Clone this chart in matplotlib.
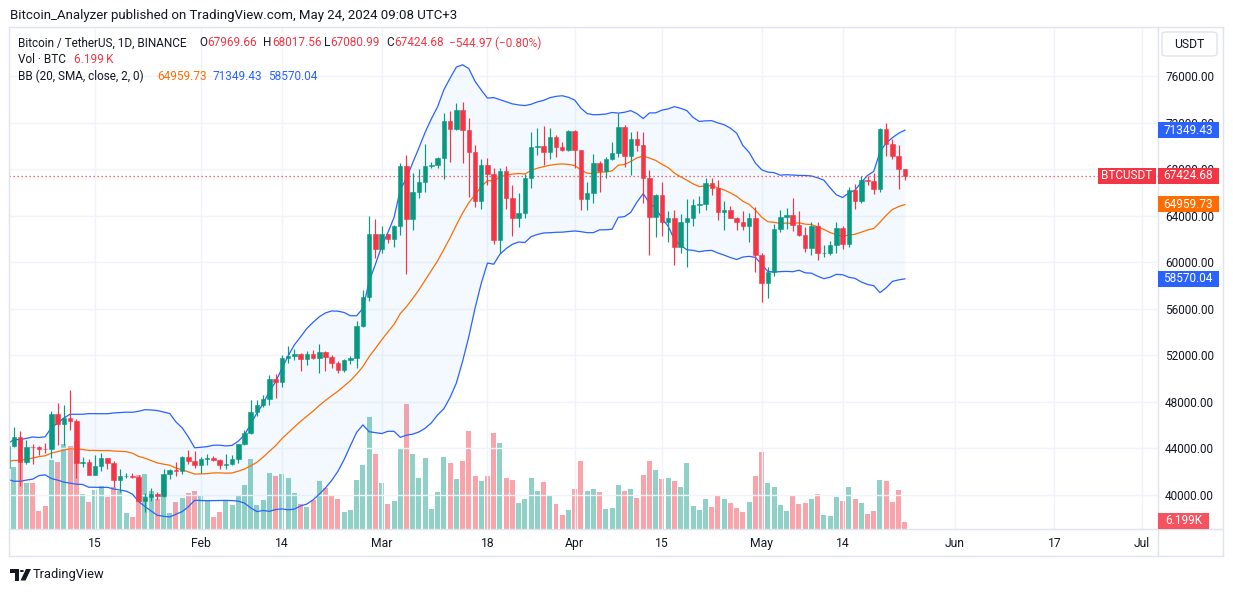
import matplotlib
matplotlib.use("Agg")
import matplotlib.pyplot as plt
import matplotlib.dates as mdates
from matplotlib.patches import Rectangle, FancyBboxPatch, Polygon, Circle
from matplotlib.lines import Line2D
from matplotlib.ticker import FuncFormatter
import numpy as np
import pandas as pd

plt.rcParams['font.family'] = ['Roboto', 'DejaVu Sans']

# ---------------- data (prices in thousands of USDT, volume in thousands of BTC) -------------
prev_close = [42.87, 43.02, 41.94, 42.26, 41.36, 42.66, 42.27, 43.65, 43.86, 43.99,
              43.74, 43.02, 43.58, 42.52, 43.44, 42.58, 42.07, 42.14, 42.28]  # Dec 13 - Dec 31

start_date = '2024-01-01'
end_date = '2024-05-24'

opens = [
    # Jan
    42.28, 44.18, 44.97, 42.84, 44.15, 44.14, 43.97, 43.93, 46.95, 46.11, 46.63, 46.34, 42.78, 42.84,
    41.73, 42.51, 43.15, 42.74, 41.26, 41.62, 41.66, 41.55, 39.51, 39.85, 40.08, 39.93, 41.82, 42.12,
    42.03, 43.30, 42.94,
    # Feb
    42.58, 43.08, 43.20, 43.01, 42.58, 42.66, 43.09, 44.34, 45.29, 47.13, 47.77, 48.29, 49.96, 49.70,
    51.80, 51.94, 52.13, 51.66, 52.12, 51.78, 52.26, 51.84, 51.30, 50.73, 51.57, 51.73, 54.48, 57.04,
    62.43,
    # Mar
    61.13, 62.39, 61.99, 63.11, 68.25, 63.72, 66.07, 66.85, 68.24, 68.35, 68.95, 72.12, 71.48, 73.08,
    71.40, 69.50, 65.30, 68.39, 67.55, 61.91, 67.85, 65.50, 63.80, 64.21, 67.21, 69.88, 69.99, 69.45,
    70.74, 69.89, 69.63,
    # Apr
    71.28, 69.65, 65.46, 65.96, 68.49, 67.84, 68.90, 69.36, 71.62, 69.15, 70.59, 70.06, 67.20, 63.91,
    65.74, 63.42, 63.79, 61.28, 63.47, 63.82, 64.94, 64.97, 66.84, 66.41, 64.28, 64.50, 63.77, 63.46,
    63.12, 63.84,
    # May
    60.64, 58.25, 59.12, 62.89, 63.89, 64.03, 63.16, 62.31, 61.19, 63.07, 60.79, 60.83, 61.48, 62.94,
    61.58, 66.21, 65.23, 67.05, 66.94, 66.28, 71.45, 70.14, 69.12, 67.96966,
]
highs = [
    44.18, 45.88, 45.50, 44.73, 44.34, 44.23, 44.50, 47.25, 47.90, 47.70, 49.05, 46.52, 43.26, 43.08,
    43.40, 43.58, 43.20, 42.93, 42.20, 41.88, 41.89, 41.68, 40.13, 40.56, 40.28, 42.22, 42.20, 42.84,
    43.31, 43.88, 43.75,
    43.29, 43.49, 43.38, 43.12, 43.53, 43.40, 44.37, 45.61, 48.20, 48.17, 48.59, 50.33, 50.37, 52.04,
    52.82, 52.57, 52.20, 52.37, 52.49, 52.99, 52.37, 52.03, 51.55, 51.68, 51.95, 54.94, 57.58, 64.00,
    63.68,
    63.11, 62.43, 63.23, 68.50, 69.17, 67.64, 67.98, 70.14, 68.59, 69.01, 72.80, 73.00, 73.65, 73.78,
    72.36, 70.04, 68.86, 68.93, 68.11, 68.10, 68.24, 66.65, 65.98, 67.62, 71.15, 71.56, 71.73, 71.55,
    70.91, 70.35, 71.37,
    71.34, 69.67, 66.91, 69.29, 68.72, 69.00, 70.33, 72.80, 71.76, 71.17, 71.26, 71.23, 67.93, 65.84,
    66.87, 64.36, 64.48, 64.13, 65.45, 65.39, 65.70, 67.23, 67.21, 67.08, 65.28, 64.80, 63.92, 64.37,
    64.23, 64.73,
    60.78, 59.60, 63.32, 64.49, 64.65, 65.49, 64.39, 62.99, 63.42, 63.47, 61.49, 61.82, 63.45, 63.10,
    66.44, 66.70, 67.45, 67.40, 67.70, 71.52, 71.98, 70.62, 70.04, 68.01756,
]
lows = [
    42.19, 44.15, 40.75, 42.63, 42.63, 43.42, 43.57, 43.18, 44.30, 44.30, 45.61, 41.50, 42.44, 41.72,
    41.72, 42.05, 42.20, 40.68, 40.28, 41.45, 41.50, 39.43, 38.56, 39.49, 39.56, 39.82, 41.39, 41.62,
    41.80, 42.68, 42.28,
    41.88, 42.58, 42.88, 42.22, 42.26, 42.57, 42.79, 44.33, 45.24, 46.80, 47.56, 47.71, 48.30, 49.26,
    51.30, 51.57, 50.63, 51.16, 51.68, 50.52, 50.62, 50.93, 50.52, 50.59, 51.28, 50.90, 54.45, 56.69,
    60.36,
    60.78, 61.66, 61.32, 62.38, 59.01, 62.79, 65.54, 66.00, 68.07, 68.13, 67.19, 68.62, 71.33, 68.56,
    65.63, 64.78, 64.53, 66.60, 61.54, 60.78, 64.53, 62.26, 63.05, 63.79, 66.39, 69.23, 68.38, 68.91,
    69.08, 69.55, 69.56,
    68.06, 64.49, 64.49, 65.06, 66.01, 67.24, 68.82, 69.04, 68.21, 67.52, 69.57, 65.09, 60.66, 62.13,
    62.27, 61.75, 59.77, 60.80, 59.60, 63.08, 64.27, 64.50, 65.80, 63.60, 62.79, 63.80, 62.79, 62.81,
    61.77, 59.19,
    56.55, 56.94, 58.85, 62.58, 62.85, 62.70, 62.25, 60.89, 60.65, 60.19, 60.49, 60.63, 60.75, 61.15,
    61.34, 64.60, 65.11, 66.60, 65.86, 66.06, 69.16, 68.87, 66.30, 67.08099,
]
closes = [
    44.18, 44.97, 42.84, 44.15, 44.14, 43.97, 43.93, 46.95, 46.11, 46.63, 46.34, 42.78, 42.84, 41.73,
    42.51, 43.15, 42.74, 41.26, 41.62, 41.66, 41.55, 39.51, 39.85, 40.08, 39.93, 41.82, 42.12, 42.03,
    43.30, 42.94, 42.58,
    43.08, 43.20, 43.01, 42.58, 42.66, 43.09, 44.34, 45.29, 47.13, 47.77, 48.29, 49.96, 49.70, 51.80,
    51.94, 52.13, 51.66, 52.12, 51.78, 52.26, 51.84, 51.30, 50.73, 51.57, 51.73, 54.48, 57.04, 62.43,
    61.13,
    62.39, 61.99, 63.11, 68.25, 63.72, 66.07, 66.85, 68.24, 68.35, 68.95, 72.12, 71.48, 73.08, 71.40,
    69.50, 65.30, 68.39, 67.55, 61.91, 67.85, 65.50, 63.80, 64.21, 67.21, 69.88, 69.99, 69.45, 70.74,
    69.89, 69.63, 71.28,
    69.65, 65.46, 65.96, 68.49, 67.84, 68.90, 69.36, 71.62, 69.15, 70.59, 70.06, 67.20, 63.91, 65.74,
    63.42, 63.79, 61.28, 63.47, 63.82, 64.94, 64.97, 66.84, 66.41, 64.28, 64.50, 63.77, 63.46, 63.12,
    63.84, 60.64,
    58.25, 59.12, 62.89, 63.89, 64.03, 63.16, 62.31, 61.19, 63.07, 60.79, 60.83, 61.48, 62.94, 61.58,
    66.21, 65.23, 67.05, 66.94, 66.28, 71.45, 70.14, 69.12, 67.97, 67.42468,
]
volumes = [
    23.0, 54.9, 79.7, 40.8, 40.8, 15.9, 20.4, 61.1, 59.4, 75.3, 73.5, 78.0, 31.0, 23.9, 34.6, 38.1,
    28.4, 37.2, 33.7, 14.2, 10.6, 47.8, 48.7, 33.7, 26.6, 47.8, 14.2, 23.9, 27.5, 31.9, 33.7,
    30.1, 25.7, 10.6, 15.1, 25.7, 21.3, 29.2, 39.0, 62.0, 21.3, 25.7, 49.6, 47.0, 48.7, 45.2, 31.9,
    22.2, 19.5, 25.7, 42.5, 36.3, 30.1, 26.6, 15.1, 16.8, 43.4, 56.7, 99.2, 66.5,
    40.8, 22.2, 24.8, 71.8, 110.8, 66.5, 45.2, 62.9, 17.7, 32.8, 63.8, 58.5, 44.3, 60.2, 86.8, 47.0,
    42.5, 47.0, 85.1, 76.2, 45.2, 43.4, 23.0, 26.6, 45.2, 33.7, 41.6, 30.1, 22.2, 12.4, 16.8,
    35.4, 60.2, 33.7, 35.4, 32.8, 17.7, 18.6, 39.0, 33.7, 35.4, 27.5, 47.8, 60.2, 52.3, 44.3, 45.2,
    42.5, 37.2, 58.5, 20.4, 16.8, 26.6, 19.5, 29.2, 26.6, 23.0, 18.6, 15.1, 23.9, 47.0,
    68.2, 40.8, 37.2, 21.3, 15.9, 30.1, 22.2, 23.0, 26.6, 31.0, 12.4, 11.5, 28.4, 24.8, 37.2, 26.6,
    23.0, 13.3, 15.9, 43.4, 42.5, 23.9, 34.6, 6.199,
]

tick_dates = ['2024-01-15', '2024-02-01', '2024-02-14', '2024-03-01', '2024-03-18', '2024-04-01',
              '2024-04-15', '2024-05-01', '2024-05-14', '2024-06-01', '2024-06-17', '2024-07-01']
tick_labels = ['15', 'Feb', '14', 'Mar', '18', 'Apr', '15', 'May', '14', 'Jun', '17', 'Jul']
price_ticks = [40, 44, 48, 52, 56, 60, 64, 68, 72, 76]

# ---------------- styling -------------
TXT = '#131722'
GREEN = '#089981'
RED = '#F23645'
ORANGE = '#FF6D00'
BLUE = '#2962FF'
BORDER = '#e0e3eb'
GRID = '#f0f3fa'
FS = 8.5

W, H = 1233, 592
fig = plt.figure(figsize=(W / 100, H / 100), dpi=100)
fig.patch.set_facecolor('white')

def fx(x):
    return x / W

def fy(y):
    return 1 - y / H

L, R, T, B = 9, 1157.7, 27, 529
ax = fig.add_axes([fx(L), fy(B), fx(R) - fx(L), fy(T) - fy(B)])
axv = ax.twinx()
ax.set_zorder(2)
axv.set_zorder(1)
ax.patch.set_visible(False)
axv.patch.set_facecolor('white')

dates = pd.date_range(start_date, end_date, freq='D')
x = mdates.date2num(dates)
o = np.array(opens); h = np.array(highs); l = np.array(lows); c = np.array(closes)
v = np.array(volumes)
up = c >= o
cols = np.where(up, GREEN, RED)

# Bollinger bands (20, SMA, close, 2)
allc = pd.Series(prev_close + closes)
basis = allc.rolling(20).mean().to_numpy()[len(prev_close):]
sd = allc.rolling(20).std(ddof=0).to_numpy()[len(prev_close):]
upper = basis + 2 * sd
lower = basis - 2 * sd

x0 = mdates.date2num(pd.Timestamp('2024-01-02'))
ax.set_xlim(x0 - 0.8, x0 + 183.58)
ax.set_ylim(37.079, 80.21)
axv.set_ylim(0, 445)

# volume
axv.bar(x, v, width=0.8, color=cols, alpha=0.45, linewidth=0, zorder=1)
axv.set_yticks([])
for s in axv.spines.values():
    s.set_visible(False)

# grid
ax.set_yticks(price_ticks)
ax.set_xticks(mdates.date2num(pd.to_datetime(tick_dates)))
ax.set_xticklabels(tick_labels)
ax.grid(True, color=GRID, linewidth=1.0, zorder=0)
ax.set_axisbelow(True)

# BB
ax.fill_between(x, lower, upper, color='#2196F3', alpha=0.05, linewidth=0, zorder=1)
ax.plot(x, upper, color=BLUE, lw=0.9, zorder=3)
ax.plot(x, lower, color=BLUE, lw=0.9, zorder=3)
ax.plot(x, basis, color=ORANGE, lw=0.9, zorder=3)

# candles
ax.vlines(x, l, h, colors=cols, lw=0.85, zorder=4)
ax.bar(x, np.abs(c - o), bottom=np.minimum(o, c), width=0.72, color=cols, edgecolor=cols,
       linewidth=0.4, zorder=5)

# last price line
ax.axhline(c[-1], color=RED, lw=0.9, linestyle=(0, (1, 2.2)), zorder=3)

# axes formatting
ax.yaxis.tick_right()
ax.yaxis.set_major_formatter(FuncFormatter(lambda val, pos: f"{val * 1000:.2f}"))
ax.tick_params(axis='y', length=0, pad=5.3, labelsize=8.5, labelcolor=TXT)
ax.tick_params(axis='x', length=0, pad=5.5, labelsize=8.7, labelcolor=TXT)
for s in ax.spines.values():
    s.set_visible(False)

# borders
def hline(y, x1, x2, color=BORDER, lw=1.0):
    fig.add_artist(Line2D([fx(x1), fx(x2)], [fy(y), fy(y)], color=color, lw=lw, transform=fig.transFigure, zorder=6))

def vline(xp, y1, y2, color=BORDER, lw=1.0):
    fig.add_artist(Line2D([fx(xp), fx(xp)], [fy(y1), fy(y2)], color=color, lw=lw, transform=fig.transFigure, zorder=6))

hline(27, 9, 1222.5)
hline(556, 9, 1222.5)
vline(9, 27, 556)
vline(1222.5, 27, 556)
vline(1157.7, 27, 556)
hline(529, 9, 1222.5)

# price label boxes
def box(x1, x2, yc, hgt, color, text, tx=None):
    fig.add_artist(Rectangle((fx(x1), fy(yc + hgt / 2)), fx(x2) - fx(x1), hgt / H,
                             transform=fig.transFigure, facecolor=color, edgecolor='none', zorder=7))
    fig.text(fx(tx if tx is not None else (x1 + x2) / 2), fy(yc), text, color='white', fontsize=8.5,
             ha='center', va='center', zorder=8)

def ypix(val):
    return H - ax.transData.transform((x0, val))[1]

def ypix_v(val):
    return H - axv.transData.transform((x0, val))[1]

box(1158, 1218.5, ypix(71.34943), 16, BLUE, '71349.43')
box(1158, 1218.5, ypix(c[-1]), 16, RED, '67424.68')
box(1098, 1155.5, ypix(c[-1]), 16, RED, 'BTCUSDT')
box(1158, 1218.5, ypix(64.95973), 16, ORANGE, '64959.73')
box(1158, 1218.5, ypix(58.57004), 16, BLUE, '58570.04')
box(1158, 1209, ypix_v(v[-1]) - 1.5, 16, '#F7525F', '6.199K')

# USDT button
fig.add_artist(FancyBboxPatch((fx(1162), fy(56)), fx(1217) - fx(1162), 24 / H,
                              boxstyle='round,pad=0,rounding_size=0.004', transform=fig.transFigure,
                              facecolor='white', edgecolor=BORDER, lw=1.0, zorder=7))
fig.text(fx(1189.5), fy(44), 'USDT', color=TXT, fontsize=8.7, ha='center', va='center', zorder=8)

# header texts
def t(xp, yp, s, color=TXT, size=FS, **kw):
    fig.text(fx(xp), fy(yp), s, color=color, fontsize=size, ha='left', va='center', **kw)

t(10, 15, 'Bitcoin_Analyzer published on TradingView.com, May 24, 2024 09:08 UTC+3', size=9.5)
t(18, 43, 'Bitcoin / TetherUS, 1D, BINANCE')
t(199, 43, 'O')
t(207.5, 43, '67969.66', RED)
t(263, 43, 'H')
t(272, 43, '68017.56', RED)
t(324, 43, 'L')
t(330, 43, '67080.99', RED)
t(386, 43, 'C')
t(394, 43, '67424.68', RED)
t(449, 43, '\u2212544.97 (\u22120.80%)', RED)
t(18, 59.5, 'Vol \u00b7 BTC')
t(74, 59.5, '6.199\u2009K', RED)
t(18, 76, 'BB (20, SMA, close, 2, 0)')
t(157, 76, '64959.73', ORANGE)
t(213, 76, '71349.43', BLUE)
t(268, 76, '58570.04', BLUE)

# TradingView logo
def P(pts, **kw):
    fig.add_artist(Polygon([(fx(a), fy(b)) for a, b in pts], closed=True, transform=fig.transFigure,
                           facecolor=TXT, edgecolor='none', zorder=8, **kw))

P([(10, 569), (19, 569), (19, 580.5), (14.5, 580.5), (14.5, 573), (10, 573)])
fig.add_artist(Circle((fx(21.8), fy(571)), 2.1 / W, transform=fig.transFigure, facecolor=TXT,
                      edgecolor='none', zorder=8))
P([(26, 569), (31, 569), (25.5, 580.5), (20.5, 580.5)])
t(33, 574.5, 'TradingView', size=9.3)

fig.savefig('out.png', dpi=100, facecolor='white')
